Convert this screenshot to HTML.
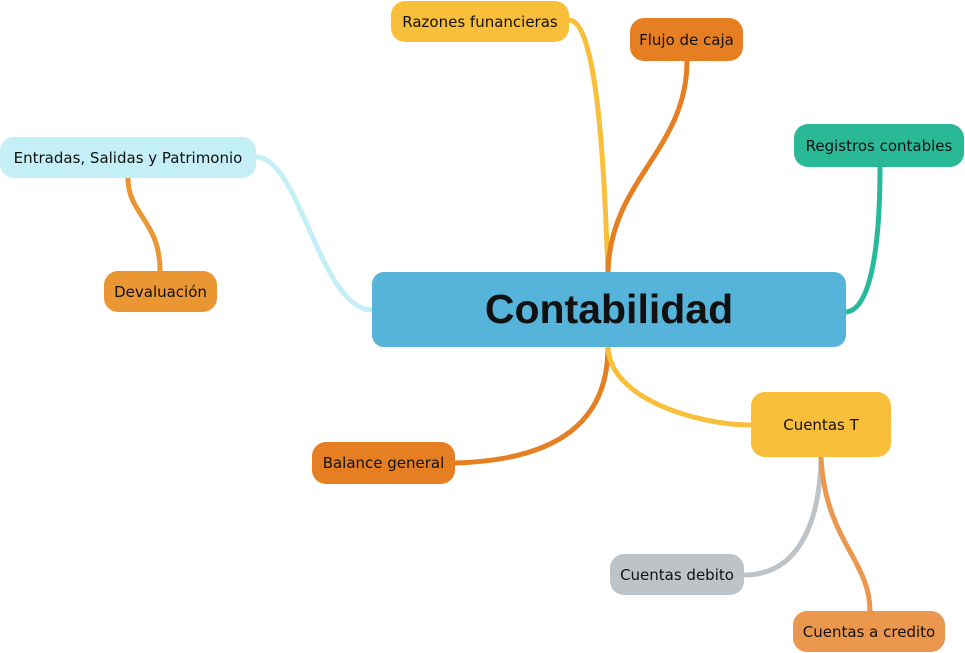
<!DOCTYPE html>
<html><head><meta charset="utf-8"><style>
body{margin:0;width:965px;height:653px;background:#fff;position:relative;overflow:hidden;font-family:"DejaVu Sans","Liberation Sans",sans-serif}
.n{position:absolute;display:flex;align-items:center;justify-content:center;border-radius:14px;font-size:15px;color:#111;box-sizing:border-box;white-space:nowrap}
svg{position:absolute;left:0;top:0}
</style></head><body>
<svg width="965" height="653" fill="none" stroke-width="5" stroke-linecap="round">
<path d="M569,20 C600,20 605,200 608,272" stroke="#f9bf3b"/>
<path d="M687,61 C687,150 610,180 608,272" stroke="#e67e22"/>
<path d="M880,167 C880,250 870,310 846,312" stroke="#26b99a"/>
<path d="M256,157 C300,157 320,310 372,310" stroke="#c5eff7"/>
<path d="M128,178 C128,215 160,220 160,271" stroke="#e99633"/>
<path d="M455,463 C560,460 608,420 608,347" stroke="#e67e22"/>
<path d="M608,347 C610,400 700,425 751,425" stroke="#f9bf3b"/>
<path d="M744,575 C800,575 820,520 821,457" stroke="#bdc3c7"/>
<path d="M821,457 C825,540 870,560 870,611" stroke="#eb974e"/>
</svg>
<div class="n" style="left:372px;top:272px;width:474px;height:75px;background:#56b4da;font-family:'Liberation Sans',sans-serif;font-size:41px;font-weight:bold;border-radius:12px">Contabilidad</div>
<div class="n" style="left:391px;top:1px;width:178px;height:41px;background:#f9bf3b">Razones funancieras</div>
<div class="n" style="left:630px;top:18px;width:113px;height:43px;background:#e67e22">Flujo de caja</div>
<div class="n" style="left:794px;top:124px;width:170px;height:43px;background:#2ab996">Registros contables</div>
<div class="n" style="left:0px;top:137px;width:256px;height:41px;background:#c5eff7">Entradas, Salidas y Patrimonio</div>
<div class="n" style="left:104px;top:271px;width:113px;height:41px;background:#e99633">Devaluación</div>
<div class="n" style="left:312px;top:442px;width:143px;height:42px;background:#e67e22">Balance general</div>
<div class="n" style="left:751px;top:392px;width:140px;height:65px;background:#f9bf3b">Cuentas T</div>
<div class="n" style="left:610px;top:554px;width:134px;height:41px;background:#bdc3c7">Cuentas debito</div>
<div class="n" style="left:793px;top:611px;width:152px;height:41px;background:#eb974e">Cuentas a credito</div>
</body></html>
